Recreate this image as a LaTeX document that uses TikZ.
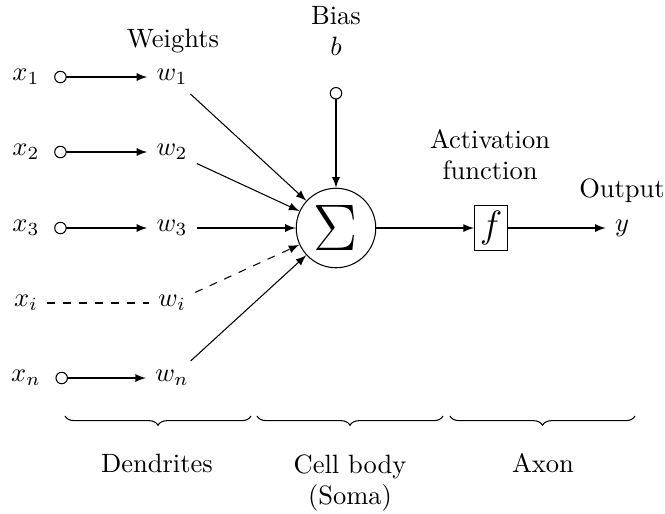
\documentclass[tikz,border=0pt]{standalone}
\usetikzlibrary{arrows,decorations.pathreplacing}
\begin{document}
\begin{tikzpicture}[x=0.37736pt,y=-0.37736pt,
  conn/.style={-latex},
  feed/.style={o-latex, shorten <=2pt},
  dconn/.style={-latex, dashed},
  brc/.style={decorate,decoration={brace,mirror,amplitude=3.5pt}},
  txt/.style={anchor=base, inner sep=0pt},
  sumnode/.style={draw,circle,inner sep=0pt,minimum size=30pt,font=\Huge},
  fbox/.style={draw,inner sep=2pt,font=\Large}]
\useasboundingbox (0,0) rectangle (665,513);
% inputs
\node (x1) at (26,77) {$x_1$};
\node (x2) at (26,152) {$x_2$};
\node (x3) at (26,228) {$x_3$};
\node (xi) at (26,303) {$x_i$};
\node (xn) at (26,378) {$x_n$};
% weights
\node (w1) at (172,77) {$w_1$};
\node (w2) at (172,152) {$w_2$};
\node (w3) at (172,228) {$w_3$};
\node (wi) at (172,303) {$w_i$};
\node (wn) at (172,378) {$w_n$};
\node[txt] (weights) at (173,47) {Weights};
% sum, activation, output
\node[sumnode] (sigma) at (336,228) {$\displaystyle\Sigma$};
\node[fbox] (f) at (491,228) {$f$};
\node (y) at (622,228) {$y$};
\node[txt] (act1) at (490,148) {Activation};
\node[txt] (act2) at (490,179) {function};
\node[txt] (out) at (622,197) {Output};
% bias
\node[txt] (bias) at (336,24) {Bias};
\node[txt] (bb) at (336,55) {$b$};
\coordinate (bstart) at (336,87);
% connectors
\draw[feed] (x1) -- (w1);
\draw[feed] (x2) -- (w2);
\draw[feed] (x3) -- (w3);
\draw[dashed] (xi) -- (wi);
\draw[feed] (xn) -- (wn);
\draw[conn] (w1) -- (sigma);
\draw[conn] (w2) -- (sigma);
\draw[conn] (w3) -- (sigma);
\draw[dconn] (wi) -- (sigma);
\draw[conn] (wn) -- (sigma);
\draw[o-latex] (bstart) -- (sigma);
\draw[conn] (sigma) -- (f);
\draw[conn] (f) -- (y);
% braces
\coordinate (b1a) at (65,416);
\coordinate (b1b) at (251,416);
\coordinate (b2a) at (257,416);
\coordinate (b2b) at (443,416);
\coordinate (b3a) at (450,416);
\coordinate (b3b) at (635,416);
\draw[brc] (b1a) -- (b1b);
\draw[brc] (b2a) -- (b2b);
\draw[brc] (b3a) -- (b3b);
\node[txt] (dend) at (157,472) {Dendrites};
\node[txt] (cell) at (350,473) {Cell body};
\node[txt] (soma) at (350,504) {(Soma)};
\node[txt] (axon) at (543,472) {Axon};
\end{tikzpicture}
\end{document}
